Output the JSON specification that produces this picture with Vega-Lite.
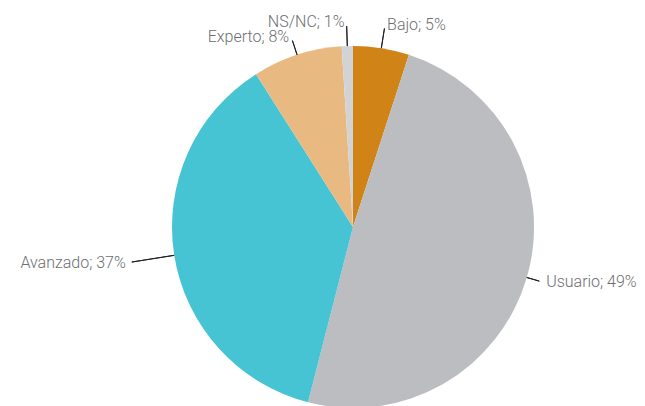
{
  "$schema": "https://vega.github.io/schema/vega-lite/v6.json",
  "width": 584,
  "height": 354,
  "autosize": "none",
  "padding": {"left": 61, "top": 50, "right": 0, "bottom": 2},
  "background": "white",
  "config": {"view": {"stroke": null}, "text": {"font": "Roboto", "fontSize": 16, "fontWeight": 300, "color": "#6d6e71"}},
  "data": {
    "values": [
      {"orden": 1, "categoria": "Bajo", "valor": 5, "etiqueta": "Bajo; 5%"},
      {"orden": 2, "categoria": "Usuario", "valor": 49, "etiqueta": "Usuario; 49%"},
      {"orden": 3, "categoria": "Avanzado", "valor": 37, "etiqueta": "Avanzado; 37%"},
      {"orden": 4, "categoria": "Experto", "valor": 8, "etiqueta": "Experto; 8%"},
      {"orden": 5, "categoria": "NS/NC", "valor": 1, "etiqueta": "NS/NC; 1%"}
    ]
  },
  "layer": [
    {
      "mark": {"type": "arc", "radius": 181},
      "encoding": {
        "theta": {"field": "valor", "type": "quantitative", "stack": true, "scale": {"domain": [0, 100]}},
        "order": {"field": "orden", "type": "quantitative", "sort": "ascending"},
        "color": {
          "field": "categoria", "type": "nominal", "legend": null,
          "scale": {"domain": ["Bajo", "Usuario", "Avanzado", "Experto", "NS/NC"],
                    "range": ["#d08316", "#bcbdc0", "#47c4d3", "#e8ba82", "#d1d3d4"]}
        }
      }
    },
    {
      "transform": [
        {"stack": "valor", "groupby": [], "sort": [{"field": "orden", "order": "ascending"}], "as": ["s0", "s1"]},
        {"fold": ["s0", "s1"], "as": ["k", "v"]},
        {"aggregate": [{"op": "mean", "field": "v", "as": "mid"}], "groupby": ["categoria", "etiqueta"]}
      ],
      "layer": [
        {
          "transform": [{"filter": "datum.categoria === 'Bajo' || datum.categoria === 'NS/NC'"}],
          "mark": {"type": "arc", "radius": 201, "radius2": 181, "fill": null, "stroke": "#231f20", "strokeWidth": 1},
          "encoding": {
            "theta": {"field": "mid", "type": "quantitative", "scale": {"domain": [0, 100]}},
            "theta2": {"field": "mid"}
          }
        },
        {
          "transform": [{"filter": "datum.categoria === 'Avanzado'"}],
          "mark": {"type": "arc", "radius": 224, "radius2": 181, "fill": null, "stroke": "#231f20", "strokeWidth": 1},
          "encoding": {
            "theta": {"field": "mid", "type": "quantitative", "scale": {"domain": [0, 100]}},
            "theta2": {"field": "mid"}
          }
        },
        {
          "transform": [{"filter": "datum.categoria === 'Usuario'"}],
          "mark": {"type": "arc", "radius": 194, "radius2": 181, "fill": null, "stroke": "#231f20", "strokeWidth": 1},
          "encoding": {
            "theta": {"field": "mid", "type": "quantitative", "scale": {"domain": [0, 100]}},
            "theta2": {"field": "mid"}
          }
        },
        {
          "transform": [{"filter": "datum.categoria === 'Experto'"}],
          "mark": {"type": "arc", "radius": 196, "radius2": 181, "fill": null, "stroke": "#231f20", "strokeWidth": 1},
          "encoding": {
            "theta": {"field": "mid", "type": "quantitative", "scale": {"domain": [0, 100]}},
            "theta2": {"field": "mid"}
          }
        },
        {
          "transform": [{"filter": "datum.categoria === 'Bajo'"}],
          "mark": {"type": "text", "radius": 205, "align": "left", "baseline": "middle", "dx": 2},
          "encoding": {
            "theta": {"field": "mid", "type": "quantitative", "scale": {"domain": [0, 100]}},
            "text": {"field": "etiqueta"}
          }
        },
        {
          "transform": [{"filter": "datum.categoria === 'NS/NC'"}],
          "mark": {"type": "text", "radius": 205, "align": "right", "baseline": "middle", "dx": -2},
          "encoding": {
            "theta": {"field": "mid", "type": "quantitative", "scale": {"domain": [0, 100]}},
            "text": {"field": "etiqueta"}
          }
        },
        {
          "transform": [{"filter": "datum.categoria === 'Usuario'"}],
          "mark": {"type": "text", "radius": 198, "align": "left", "baseline": "middle", "dx": 3},
          "encoding": {
            "theta": {"field": "mid", "type": "quantitative", "scale": {"domain": [0, 100]}},
            "text": {"field": "etiqueta"}
          }
        },
        {
          "transform": [{"filter": "datum.categoria === 'Avanzado'"}],
          "mark": {"type": "text", "radius": 228, "align": "right", "baseline": "middle", "dx": -2},
          "encoding": {
            "theta": {"field": "mid", "type": "quantitative", "scale": {"domain": [0, 100]}},
            "text": {"field": "etiqueta"}
          }
        },
        {
          "transform": [{"filter": "datum.categoria === 'Experto'"}],
          "mark": {"type": "text", "radius": 200, "align": "right", "baseline": "middle", "dx": -2},
          "encoding": {
            "theta": {"field": "mid", "type": "quantitative", "scale": {"domain": [0, 100]}},
            "text": {"field": "etiqueta"}
          }
        }
      ]
    }
  ]
}
